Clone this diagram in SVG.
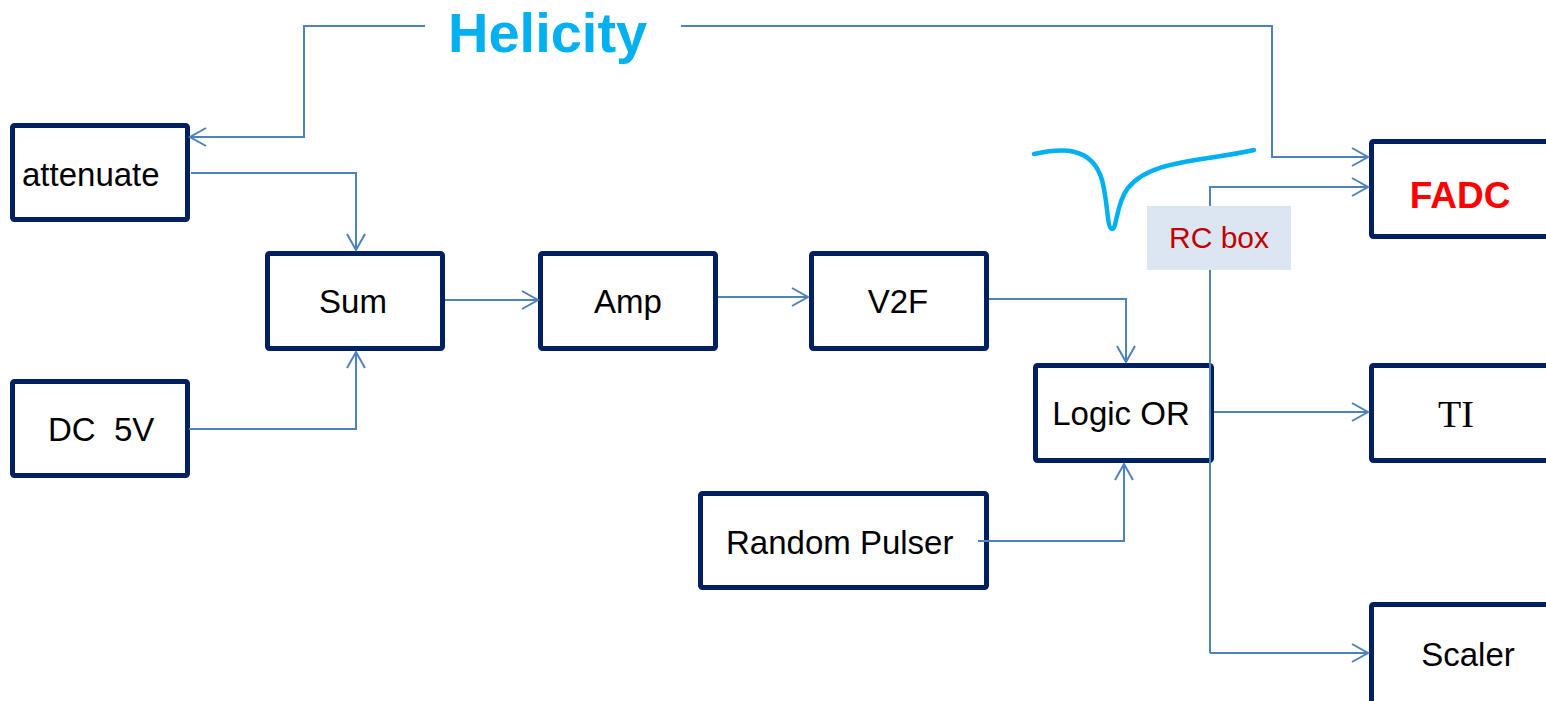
<svg xmlns="http://www.w3.org/2000/svg" width="1546" height="701" viewBox="0 0 1546 701">
<defs>
<style>
.box{fill:#fff;stroke:#002060;stroke-width:5}
.t{font-family:"Liberation Sans",Arial,sans-serif;font-size:33px;fill:#000}
.c{text-anchor:middle}
.ln{fill:none;stroke:#4F81BD;stroke-width:2}
</style>
<marker id="ar" viewBox="0 0 20 20" refX="17" refY="10" markerWidth="20" markerHeight="20" markerUnits="userSpaceOnUse" orient="auto">
<path d="M1,1 L17,10 L1,19" fill="none" stroke="#4F81BD" stroke-width="2"/>
</marker>
</defs>
<rect width="1546" height="701" fill="#fff"/>
<g id="attenuate"><rect class="box" x="12.5" y="125.5" width="175" height="94" rx="2"/><text class="t" x="22" y="186">attenuate</text></g>
<g id="dc5v"><rect class="box" x="12.5" y="381.5" width="175" height="94" rx="2"/><text class="t" x="48" y="441" xml:space="preserve">DC  5V</text></g>
<g id="sum"><rect class="box" x="267.5" y="253.5" width="175" height="95" rx="2"/><text class="t c" x="353" y="313">Sum</text></g>
<g id="amp"><rect class="box" x="540.5" y="253.5" width="175" height="95" rx="2"/><text class="t c" x="628" y="313">Amp</text></g>
<g id="v2f"><rect class="box" x="811.5" y="253.5" width="175" height="95" rx="2"/><text class="t c" x="898" y="313">V2F</text></g>
<g id="logicor"><rect class="box" x="1035.5" y="365.5" width="176" height="95" rx="2"/><text class="t c" x="1121" y="425">Logic OR</text></g>
<g id="randompulser"><rect class="box" x="700.5" y="493.5" width="286" height="94" rx="2"/><text class="t" x="726" y="554">Random Pulser</text></g>
<g id="fadc"><rect class="box" x="1371.5" y="141.5" width="180" height="95" rx="2"/><text class="c" x="1460" y="208" style="font-family:'Liberation Sans',Arial,sans-serif;font-size:37px;font-weight:bold;fill:#FF0000">FADC</text></g>
<g id="ti"><rect class="box" x="1371.5" y="365.5" width="180" height="95" rx="2"/><text class="c" x="1456" y="427" style="font-family:'Liberation Serif','Times New Roman',serif;font-size:38px;fill:#000">TI</text></g>
<g id="scaler"><rect class="box" x="1371.5" y="604.5" width="180" height="100" rx="2"/><text class="t c" x="1468" y="666">Scaler</text></g>
<g id="connectors">
<path class="ln" d="M425,26 H304 V137 H190" marker-end="url(#ar)"/>
<path class="ln" d="M681,26 H1272 V157 H1368" marker-end="url(#ar)"/>
<path class="ln" d="M191,173 H356 V250" marker-end="url(#ar)"/>
<path class="ln" d="M189,429 H356 V352" marker-end="url(#ar)"/>
<path class="ln" d="M445,300 H538" marker-end="url(#ar)"/>
<path class="ln" d="M718,297 H808" marker-end="url(#ar)"/>
<path class="ln" d="M989,299 H1126 V362" marker-end="url(#ar)"/>
<path class="ln" d="M978,541 H1124 V464" marker-end="url(#ar)"/>
<path class="ln" d="M1214,412 H1368" marker-end="url(#ar)"/>
<path class="ln" d="M1210,653 V187 H1368" marker-end="url(#ar)"/>
<path class="ln" d="M1210,653 H1368" marker-end="url(#ar)"/>
</g>
<g id="rcbox"><rect x="1147" y="206" width="144" height="64" fill="#DCE6F2"/><text class="c" x="1219" y="248" style="font-family:'Liberation Sans',Arial,sans-serif;font-size:30px;fill:#C00000">RC box</text></g>
<g id="helicity"><text x="448" y="52" style="font-family:'Liberation Sans',Arial,sans-serif;font-size:56px;font-weight:bold;fill:#00B0F0">Helicity</text></g>
<g id="pulse"><path d="M1034,154 C1062,148 1092,146 1102,180 C1108,202 1107,229 1112,229 C1117,229 1116,203 1128,188 C1150,160 1200,162 1254,150" fill="none" stroke="#00B0F0" stroke-width="4.5" stroke-linecap="round"/></g>
</svg>
